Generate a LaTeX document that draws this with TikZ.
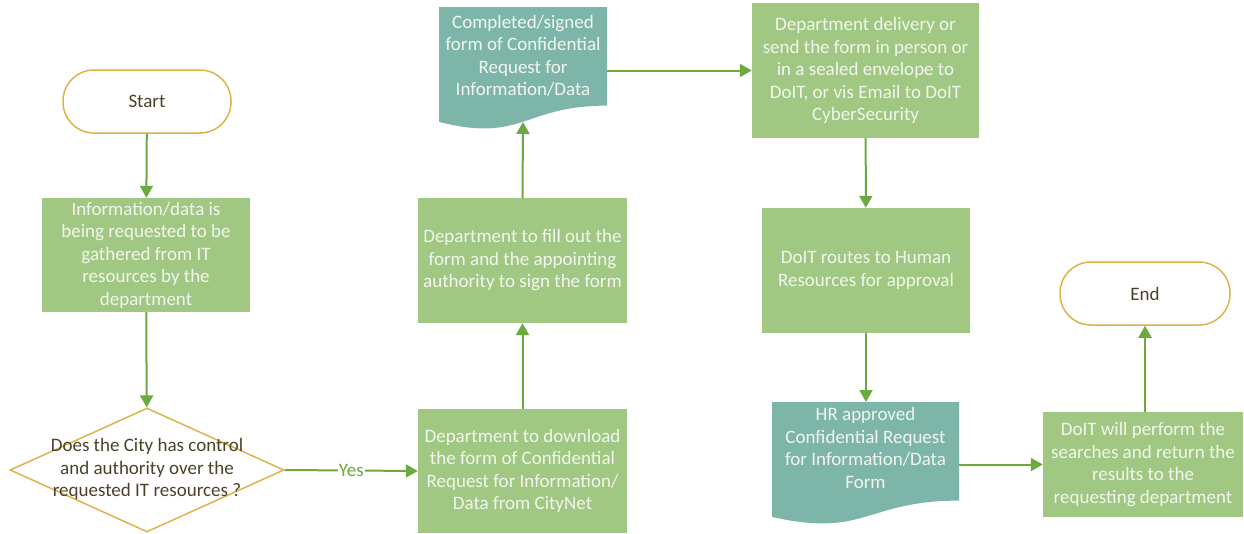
\documentclass[tikz,border=0pt]{standalone}
\usepackage{fontspec}
\setmainfont{Carlito}
\usetikzlibrary{shapes.geometric,arrows.meta}
\definecolor{boxgreen}{HTML}{A0C882}
\definecolor{docteal}{HTML}{7DB6A8}
\definecolor{arrowgreen}{HTML}{6AAA3E}
\definecolor{termgold}{HTML}{DDB44A}
\definecolor{darktext}{HTML}{4A4228}
\definecolor{lighttext}{HTML}{F2F6EE}
\begin{document}
\begin{tikzpicture}[x=1pt,y=-1pt,
  txt/.style={align=center, inner sep=0pt, font=\fontsize{19}{22.5}\selectfont},
  proc/.style={txt, fill=boxgreen, draw=none, text=lighttext},
  term/.style={txt, draw=termgold, line width=1.5pt, fill=white, rounded corners=31pt, text=darktext, minimum width=168pt, minimum height=63pt},
  doctxt/.style={txt, text=lighttext},
  conn/.style={draw=arrowgreen, line width=2pt, -{Triangle[length=12pt,width=13pt]}}
]
\useasboundingbox (0,0) rectangle (1244,533);

% terminals
\node[term] (start) at (147,101.5) {Start};
\node[term, minimum width=170pt] (end) at (1145,293.5) {End};

% process boxes
\node[proc, minimum width=208pt, minimum height=114pt] (info) at (146,255) {Information/data is\\being requested to be\\gathered from IT\\resources by the\\department};
\node[proc, minimum width=209pt, minimum height=124pt] (download) at (522.5,471) {Department to download\\the form of Confidential\\Request for Information/\\Data from CityNet};
\node[proc, minimum width=209pt, minimum height=125pt] (fill) at (522.5,260.5) {Department to fill out the\\form and the appointing\\authority to sign the form};
\node[proc, minimum width=227pt, minimum height=135pt] (delivery) at (865.5,70.5) {Department delivery or\\send the form in person or\\in a sealed envelope to\\DoIT, or vis Email to DoIT\\CyberSecurity};
\node[proc, minimum width=208pt, minimum height=125pt] (routes) at (866,270.5) {DoIT routes to Human\\Resources for approval};
\node[proc, minimum width=200pt, minimum height=105pt] (perform) at (1143,464.5) {DoIT will perform the\\searches and return the\\results to the\\requesting department};

% decision
\node[diamond, draw=termgold, line width=1.5pt, fill=white, minimum width=274pt, minimum height=124pt, inner sep=0pt] (dec) at (147,470) {};
\node[txt, text=darktext] (dectxt) at (147,469) {Does the City has control\\and authority over the\\requested IT resources ?};

% documents
\fill[docteal] (439,7) -- (607,7) -- (607,105.6) .. controls (523,105.6) and (523,143.2) .. (439,121.9) -- cycle;
\node[doctxt] (doc1) at (523,56) {Completed/signed\\form of Confidential\\Request for\\Information/Data};
\coordinate (doc1b) at (523,122);
\coordinate (doc1r) at (607,70.5);

\fill[docteal] (772,402) -- (959,402) -- (959,500.6) .. controls (865.5,500.6) and (865.5,538.2) .. (772,516.9) -- cycle;
\node[doctxt] (doc2) at (865.5,448) {HR approved\\Confidential Request\\for Information/Data\\Form};
\coordinate (doc2t) at (866,402);
\coordinate (doc2r) at (959,464.5);

% connectors
\draw[conn] (start) -- (info);
\draw[conn] (info) -- (dec);
\draw[conn] (dec.east) -- node[fill=white, inner sep=1pt, text=arrowgreen, font=\fontsize{19}{20}\selectfont] {Yes} (download.west);
\draw[conn] (download) -- (fill);
\draw[conn] (fill.north) -- (doc1b);
\draw[conn] (doc1r) -- (delivery.west);
\draw[conn] (delivery) -- (routes);
\draw[conn] (routes.south) -- (doc2t);
\draw[conn] (doc2r) -- (perform.west);
\draw[conn] (end.south |- perform.north) -- (end.south);
\end{tikzpicture}
\end{document}
